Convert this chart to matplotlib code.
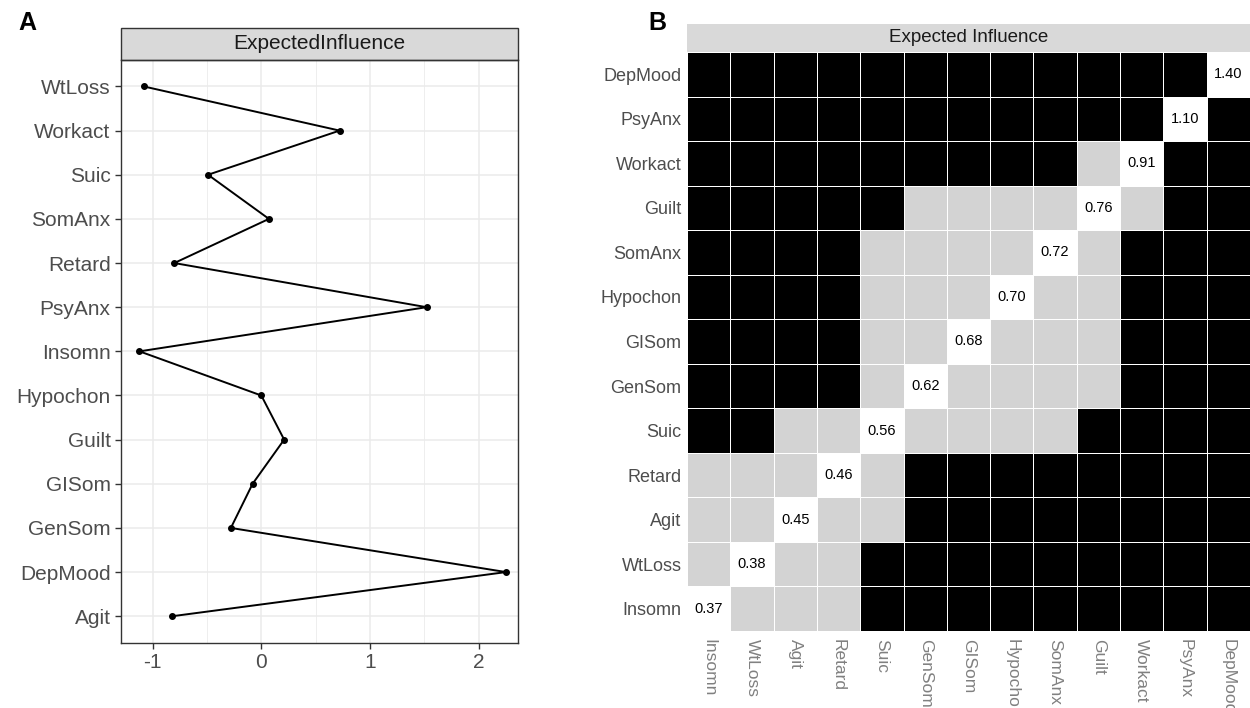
import numpy as np
import matplotlib
matplotlib.use('Agg')
import matplotlib.pyplot as plt
from matplotlib.colors import ListedColormap
from matplotlib.patches import Rectangle

plt.rcParams['font.family'] = ['Liberation Sans', 'DejaVu Sans']
plt.rcParams['axes.unicode_minus'] = False

# panel A : expected influence (standardised), bottom to top
ei_labels = ['Agit', 'DepMood', 'GenSom', 'GISom', 'Guilt', 'Hypochon', 'Insomn',
             'PsyAnx', 'Retard', 'SomAnx', 'Suic', 'Workact', 'WtLoss']
ei_values = [-0.82, 2.25, -0.28, -0.08, 0.21, 0.0, -1.12,
             1.52, -0.80, 0.07, -0.49, 0.72, -1.08]

# panel B : difference test, nodes sorted by raw expected influence
nodes = ['Insomn', 'WtLoss', 'Agit', 'Retard', 'Suic', 'GenSom', 'GISom',
         'Hypochon', 'SomAnx', 'Guilt', 'Workact', 'PsyAnx', 'DepMood']
diag_values = [0.37, 0.38, 0.45, 0.46, 0.56, 0.62, 0.68, 0.70, 0.72, 0.76, 0.91, 1.10, 1.40]
# '1' = not significantly different (grey), '0' = different (black), 'x' = diagonal
nonsig_rows = [
    'x111000000000',
    '1x11000000000',
    '11x1100000000',
    '111x100000000',
    '0011x11110000',
    '00001x1111000',
    '000011x111000',
    '0000111x11000',
    '00001111x1000',
    '000001111x100',
    '0000000001x00',
    '00000000000x0',
    '000000000000x',
]

fig = plt.figure(figsize=(12.5, 7.08), dpi=100)

# ---------------- panel A ----------------
axA = fig.add_axes([0.0968, 0.0922, 0.3176, 0.8231])
axA.set_facecolor('white')
ypos = np.arange(len(ei_labels))
axA.plot(ei_values, ypos, color='black', lw=1.4, marker='o', ms=4, zorder=3)
axA.set_xlim(-1.29, 2.36)
axA.set_ylim(-0.6, len(ei_labels) - 0.4)
axA.set_yticks(ypos)
axA.set_yticklabels(ei_labels)
axA.set_xticks([-1, 0, 1, 2])
axA.set_xticks([-0.5, 0.5, 1.5], minor=True)
axA.grid(True, which='major', color='#ebebeb', lw=1.1, zorder=0)
axA.grid(True, which='minor', axis='x', color='#ebebeb', lw=0.6, zorder=0)
axA.set_axisbelow(True)
axA.tick_params(axis='both', which='major', labelsize=15, colors='#333333',
                labelcolor='#4d4d4d', length=4, width=1)
axA.tick_params(axis='both', which='minor', length=0)
for s in axA.spines.values():
    s.set_color('#333333')
    s.set_linewidth(1.0)

# strip A
stripA = Rectangle((0, 1.0), 1, 32 / (0.8231 * 708), transform=axA.transAxes,
                   facecolor='#d9d9d9', edgecolor='#333333', lw=1.0, clip_on=False)
axA.add_patch(stripA)
axA.text(0.5, 1.0 + 16 / (0.8231 * 708), 'ExpectedInfluence', transform=axA.transAxes,
         ha='center', va='center', fontsize=15, color='#1a1a1a')

# ---------------- panel B ----------------
n = len(nodes)
codes = np.zeros((n, n))
for i, row in enumerate(nonsig_rows):
    for j, c in enumerate(row):
        codes[i, j] = 2 if c == 'x' else (1 if c == '1' else 0)

axB = fig.add_axes([0.5496, 0.1088, 0.4504, 0.8178])
cmap = ListedColormap(['black', '#d3d3d3', 'white'])
axB.pcolormesh(np.arange(n + 1) - 0.5, np.arange(n + 1) - 0.5, codes, cmap=cmap,
               vmin=-0.5, vmax=2.5, edgecolors='white', linewidth=0.7)
for i, v in enumerate(diag_values):
    axB.text(i, i, f'{v:.2f}', ha='center', va='center', fontsize=10.5, color='black')
axB.set_xlim(-0.5, n - 0.5)
axB.set_ylim(-0.5, n - 0.5)
axB.set_xticks(np.arange(n))
axB.set_xticklabels(nodes, rotation=270, va='top', ha='center')
axB.set_yticks(np.arange(n))
axB.set_yticklabels(nodes)
axB.tick_params(axis='y', length=0, labelsize=13, labelcolor='#4d4d4d', pad=4)
axB.tick_params(axis='x', length=0, labelsize=12.5, labelcolor='#808080', pad=6)
for s in axB.spines.values():
    s.set_visible(False)

stripB = Rectangle((0, 1.0), 1, 28 / (0.8178 * 708), transform=axB.transAxes,
                   facecolor='#d9d9d9', edgecolor='none', clip_on=False)
axB.add_patch(stripB)
axB.text(0.5, 1.0 + 14 / (0.8178 * 708), 'Expected Influence', transform=axB.transAxes,
         ha='center', va='center', fontsize=13.5, color='#1a1a1a')

fig.text(0.0145, 0.968, 'A', fontsize=18, fontweight='bold', ha='left', va='center')
fig.text(0.519, 0.968, 'B', fontsize=18, fontweight='bold', ha='left', va='center')

fig.savefig('out.png', dpi=100)
